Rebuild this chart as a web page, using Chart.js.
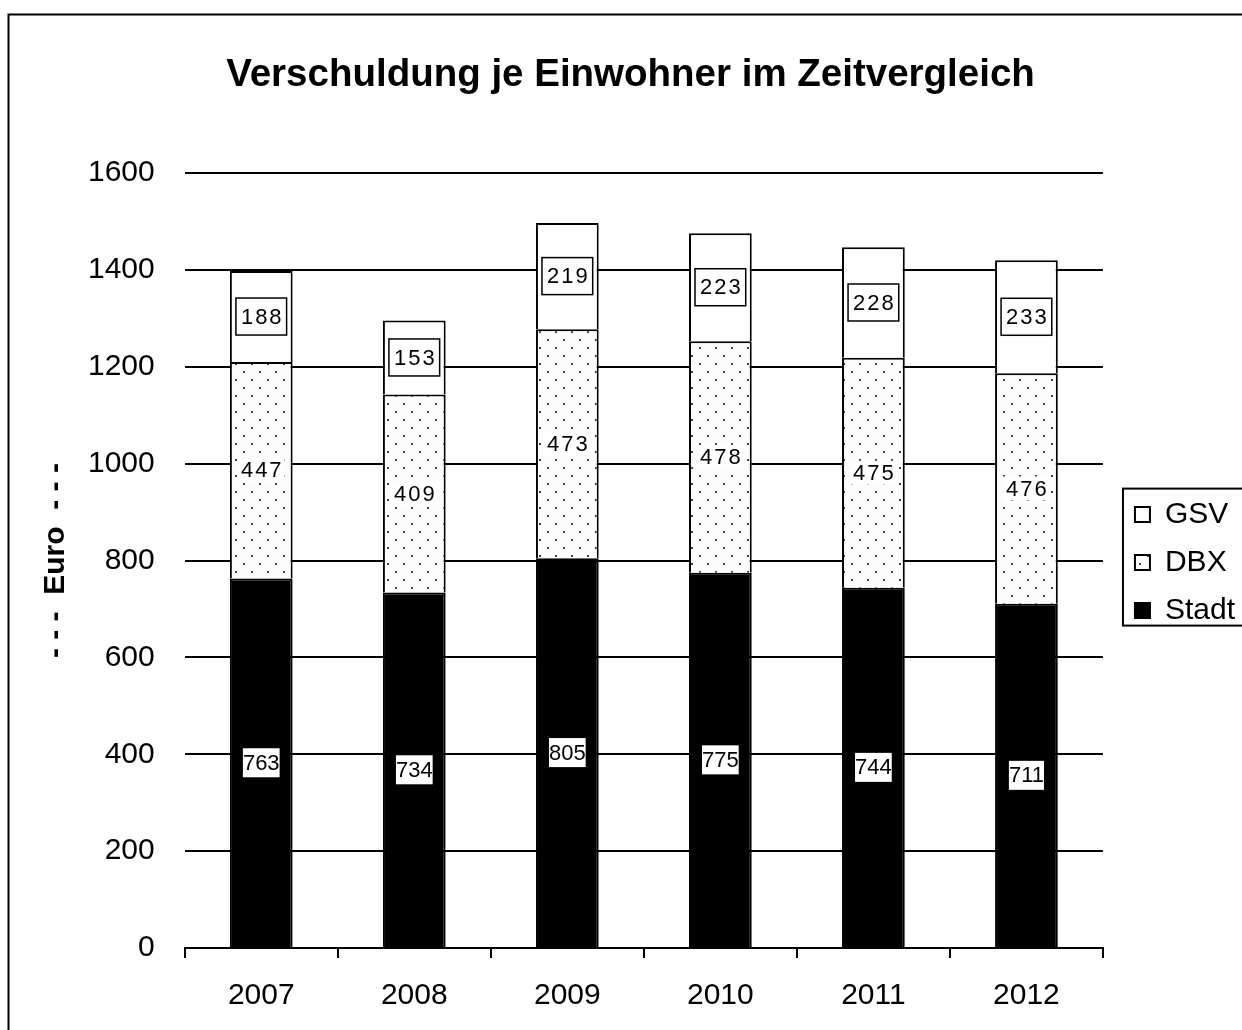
<!DOCTYPE html>
<html>
<head>
<meta charset="utf-8">
<title>Verschuldung je Einwohner</title>
<script src="https://cdn.jsdelivr.net/npm/chart.js@4.4.1/dist/chart.umd.min.js"></script>
<style>
    html, body { margin: 0; padding: 0; background: #fff; overflow: hidden; }
    #wrap { width: 1242px; height: 1030px; }
</style>
</head>
<body>
<div id="wrap"><canvas id="schuldenChart" width="1242" height="1030"></canvas></div>
<script>
const jahre = ['2007', '2008', '2009', '2010', '2011', '2012'];
const stadt = [763, 734, 805, 775, 744, 711];
const dbx = [447, 409, 473, 478, 475, 476];
const gsv = [188, 153, 219, 223, 228, 233];
const yMax = 1600;
const yStep = 200;

const schrift = '"Liberation Sans", Arial, sans-serif';

// Punktraster fuer DBX
const punktMuster = (() => {
    const c = document.createElement('canvas');
    c.width = 16; c.height = 16;
    const g = c.getContext('2d');
    g.fillStyle = '#fcfcfc';
    g.fillRect(0, 0, 16, 16);
    g.fillStyle = '#444';
    g.fillRect(3, 3, 2, 2);
    g.fillRect(11, 11, 2, 2);
    return g.createPattern(c, 'repeat');
})();

// erste Zeile der Legende (oben)
const legendeY0 = (lg) => (lg.top + lg.options.labels.padding + lg.bottom - lg.columnSizes[0].height) / 2;

// Rahmen ums ganze Bild, Legende verschieben und einrahmen
const rahmen = {
    id: 'rahmen',
    beforeDraw(chart) {
        const ctx = chart.ctx;
        ctx.save();
        ctx.fillStyle = '#fff';
        ctx.fillRect(0, 0, chart.width, chart.height);
        ctx.strokeStyle = '#000';
        ctx.lineWidth = 2;
        ctx.strokeRect(8.5, 14.5, chart.width + 20, chart.height + 20);
        ctx.restore();
    },
    afterLayout(chart) {
        const lg = chart.legend;
        const ca = chart.chartArea;
        const pad = lg.options.labels.padding;
        const blockH = lg.columnSizes[0].height - pad;
        const wunschY0 = (ca.top + ca.bottom) / 2 + 2 - blockH / 2;
        const dy = wunschY0 - legendeY0(lg);
        lg.left += 14;
        lg.right += 14;
        lg.top += dy;
        lg.bottom += dy;
    },
    afterDraw(chart) {
        const lg = chart.legend;
        const pad = lg.options.labels.padding;
        const ctx = chart.ctx;
        const y0 = legendeY0(lg);
        const blockH = lg.columnSizes[0].height - pad;
        ctx.save();
        ctx.strokeStyle = '#000';
        ctx.lineWidth = 2;
        ctx.strokeRect(lg.left + pad - 12, y0 - 11, 300, blockH + 11);
        ctx.restore();
    }
};

// Werte in die Segmente schreiben
const wertLabels = {
    id: 'wertLabels',
    afterDatasetsDraw(chart) {
        const ctx = chart.ctx;
        chart.data.datasets.forEach((ds, i) => {
            const meta = chart.getDatasetMeta(i);
            meta.data.forEach((bar, j) => {
                const text = String(ds.data[j]);
                const x = bar.x;
                const y = (bar.y + bar.base) / 2;
                ctx.save();
                ctx.font = '22px ' + schrift;
                ctx.letterSpacing = ds.labelArt === 'stadt' ? '0px' : '2px';
                const tw = ctx.measureText(text).width;
                let w, h;
                if (ds.labelArt === 'gsv') { w = tw + 8; h = 37; }
                else if (ds.labelArt === 'dbx') { w = tw + 4; h = 24; }
                else { w = tw; h = 29; }
                ctx.fillStyle = '#fff';
                ctx.fillRect(x - w / 2, y - h / 2, w, h);
                if (ds.labelArt === 'gsv') {
                    ctx.strokeStyle = '#000';
                    ctx.lineWidth = 1.5;
                    ctx.strokeRect(x - w / 2, y - h / 2, w, h);
                }
                ctx.fillStyle = '#000';
                ctx.textAlign = 'center';
                ctx.textBaseline = 'middle';
                ctx.fillText(text, x + (ds.labelArt === 'stadt' ? 0 : 1), y + 1);
                ctx.restore();
            });
        });
    }
};

const ctx = document.getElementById('schuldenChart').getContext('2d');
new Chart(ctx, {
    type: 'bar',
    data: {
        labels: jahre,
        datasets: [
            {
                label: 'Stadt',
                data: stadt,
                backgroundColor: '#000',
                borderColor: '#000',
                borderWidth: 2,
                labelArt: 'stadt'
            },
            {
                label: 'DBX',
                data: dbx,
                backgroundColor: punktMuster,
                borderColor: '#000',
                borderWidth: 2,
                labelArt: 'dbx'
            },
            {
                label: 'GSV',
                data: gsv,
                backgroundColor: '#fff',
                borderColor: '#000',
                borderWidth: 2,
                labelArt: 'gsv'
            }
        ]
    },
    options: {
        responsive: false,
        animation: false,
        barPercentage: 0.41,
        categoryPercentage: 1,
        layout: { padding: { left: 30, right: 11, top: 0, bottom: -4 } },
        scales: {
            x: {
                stacked: true,
                grid: {
                    offset: true,
                    drawOnChartArea: false,
                    tickLength: 10,
                    color: '#000',
                    lineWidth: 2
                },
                border: { display: true, color: '#000', width: 2 },
                ticks: { color: '#000', font: { family: schrift, size: 30 }, padding: 20 }
            },
            y: {
                stacked: true,
                min: 0,
                max: yMax,
                grid: { color: '#000', lineWidth: 2, drawTicks: false },
                border: { display: false },
                ticks: {
                    stepSize: yStep,
                    color: '#000',
                    font: { family: schrift, size: 30 },
                    padding: 30,
                    callback: (wert) => String(wert)
                },
                title: {
                    display: true,
                    text: '- - -  Euro  - - -',
                    color: '#000',
                    font: { family: schrift, size: 30, weight: 'bold' },
                    padding: { top: 8, bottom: -16 }
                }
            }
        },
        plugins: {
            title: {
                display: true,
                text: 'Verschuldung je Einwohner im Zeitvergleich',
                color: '#000',
                font: { family: schrift, size: 38.5, weight: 'bold' },
                padding: { top: 52, bottom: 75 }
            },
            legend: {
                position: 'right',
                reverse: true,
                labels: {
                    color: '#000',
                    font: { family: schrift, size: 30 },
                    boxWidth: 15,
                    boxHeight: 15,
                    padding: 18
                }
            },
            tooltip: { enabled: false }
        }
    },
    plugins: [rahmen, wertLabels]
});
</script>
</body>
</html>
